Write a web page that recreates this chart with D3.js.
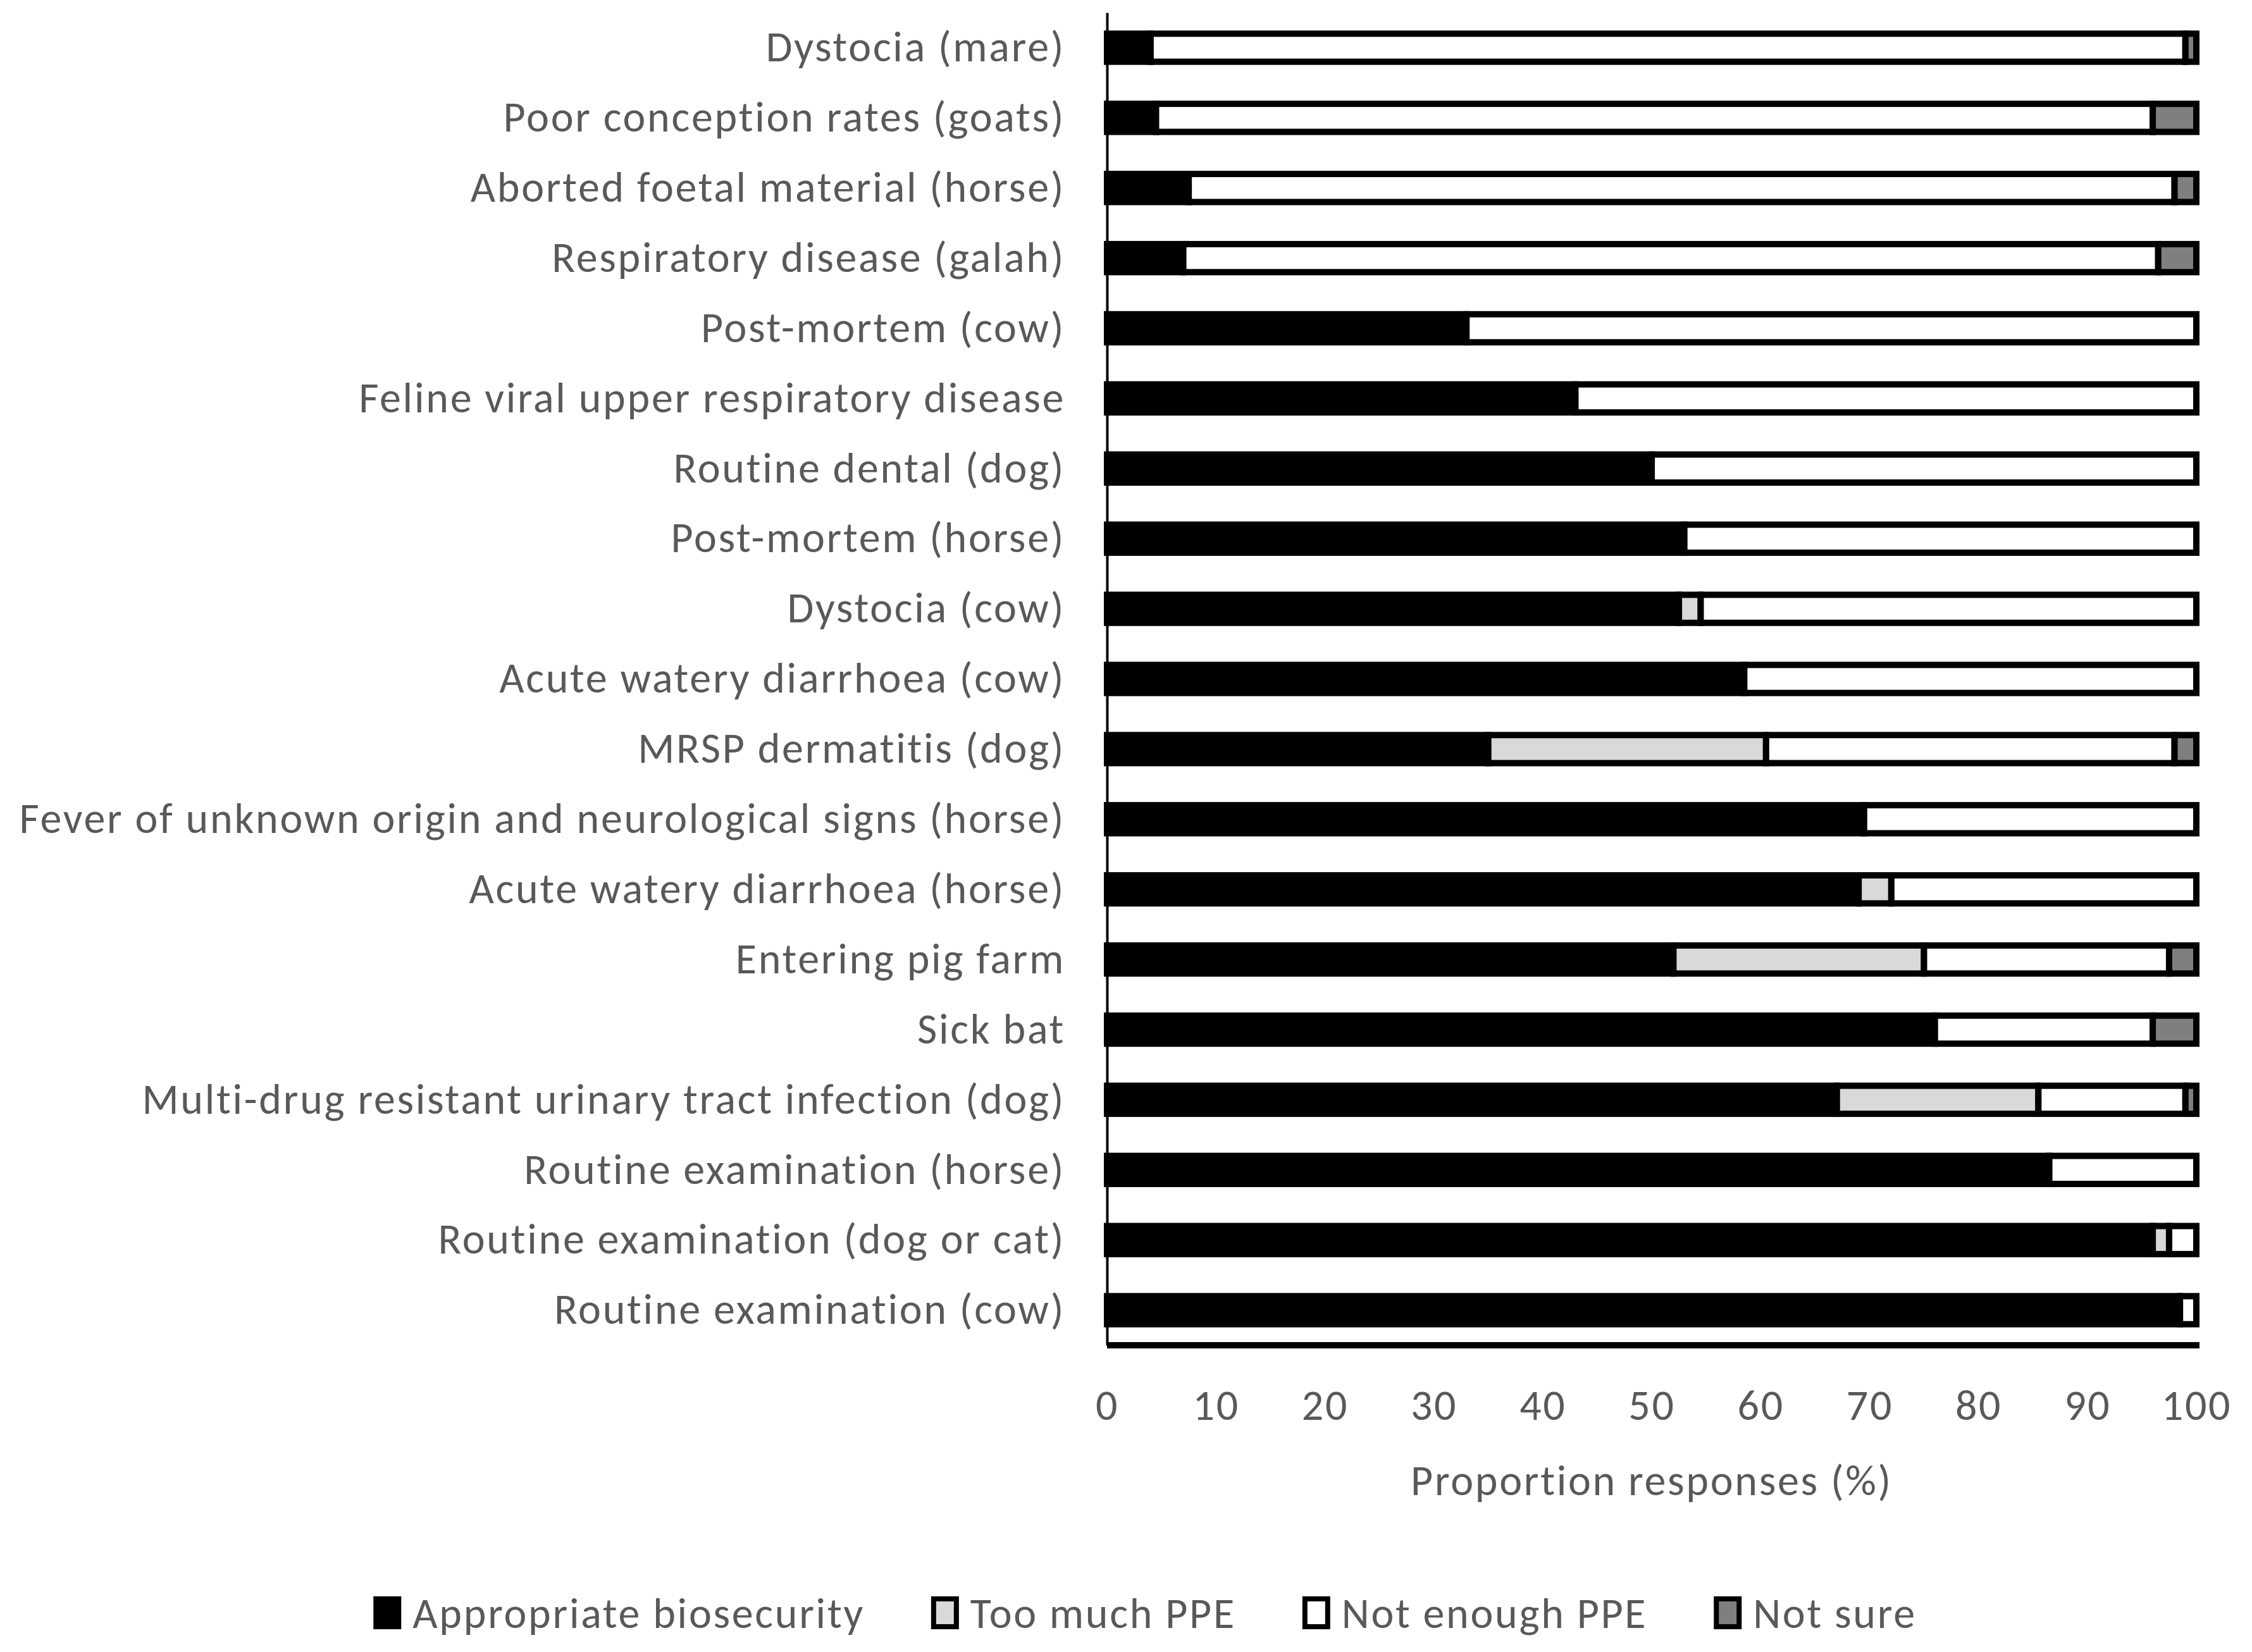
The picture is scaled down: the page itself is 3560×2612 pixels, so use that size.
<!DOCTYPE html>
<html>
<head>
<meta charset="utf-8">
<script src="https://cdn.jsdelivr.net/npm/d3@7"></script>
<style>
  body { margin: 0; background: #fff; }
  text { font-family: "Carlito", "Lato", sans-serif; fill: #595959; letter-spacing: 2.7px; }
</style>
</head>
<body>
<svg id="chart" width="3560" height="2612"></svg>
<script>
// categories, top to bottom
const categories = [
  "Dystocia (mare)",
  "Poor conception rates (goats)",
  "Aborted foetal material (horse)",
  "Respiratory disease (galah)",
  "Post-mortem (cow)",
  "Feline viral upper respiratory disease",
  "Routine dental (dog)",
  "Post-mortem (horse)",
  "Dystocia (cow)",
  "Acute watery diarrhoea (cow)",
  "MRSP dermatitis (dog)",
  "Fever of unknown origin and neurological signs (horse)",
  "Acute watery diarrhoea (horse)",
  "Entering pig farm",
  "Sick bat",
  "Multi-drug resistant urinary tract infection (dog)",
  "Routine examination (horse)",
  "Routine examination (dog or cat)",
  "Routine examination (cow)",
];

const appropriate = [4, 4.5, 7.5, 7, 33, 43, 50, 53, 52.5, 58.5, 35, 69.5, 69, 52, 76, 67, 86.5, 96, 98.5];
const too_much = [0, 0, 0, 0, 0, 0, 0, 0, 2, 0, 25.5, 0, 3, 23, 0, 18.5, 0, 1.5, 0];
const not_enough = [95, 91.5, 90.5, 89.5, 67, 57, 50, 47, 45.5, 41.5, 37.5, 30.5, 28, 22.5, 20, 13.5, 13.5, 2.5, 1.5];
const not_sure = [1, 4, 2, 3.5, 0, 0, 0, 0, 0, 0, 2, 0, 0, 2.5, 4, 1, 0, 0, 0];

const series_names = ["Appropriate biosecurity", "Too much PPE", "Not enough PPE", "Not sure"];
const series_keys = ["appropriate", "too_much", "not_enough", "not_sure"];
const x_ticks = [0, 10, 20, 30, 40, 50, 60, 70, 80, 90, 100];
const x_title = "Proportion responses (%)";

const colors = ["#000000", "#d9d9d9", "#ffffff", "#7f7f7f"];

const rows = categories.map((c, i) => ({
  category: c,
  appropriate: appropriate[i],
  too_much: too_much[i],
  not_enough: not_enough[i],
  not_sure: not_sure[i],
}));

const svg = d3.select("#chart");
const margin = { left: 1750, right: 88, top: 20, bottom: 485 };
const width = 3560, height = 2612;
const font_size = 68;

const x = d3.scaleLinear().domain([0, 100]).range([margin.left, width - margin.right]);
const y = d3.scaleBand()
  .domain(categories)
  .range([margin.top, height - margin.bottom])
  .paddingInner(0.6)
  .paddingOuter(0.3);

const stacked = d3.stack().keys(series_keys)(rows);

// bars
svg.append("g")
  .selectAll("g")
  .data(stacked)
  .join("g")
  .attr("fill", (d, i) => colors[i])
  .selectAll("rect")
  .data((d) => d.filter((s) => s[1] - s[0] > 0))
  .join("rect")
  .attr("x", (d) => x(d[0]))
  .attr("y", (d) => y(d.data.category))
  .attr("width", (d) => x(d[1]) - x(d[0]))
  .attr("height", y.bandwidth())
  .attr("stroke", "#000")
  .attr("stroke-width", 10);

// y axis
const y_axis = svg.append("g")
  .attr("transform", `translate(${margin.left}, 0)`)
  .call(d3.axisLeft(y).tickSize(0).tickPadding(66));
y_axis.select(".domain").attr("stroke", "#000").attr("stroke-width", 4);
y_axis.selectAll(".tick text")
  .attr("font-size", font_size)
  .attr("fill", "#595959");

// x axis
const x_axis = svg.append("g")
  .attr("transform", `translate(0, ${height - margin.bottom})`)
  .call(d3.axisBottom(x).tickValues(x_ticks).tickSize(0).tickPadding(70));
x_axis.select(".domain")
  .attr("d", `M${margin.left},0H${x(100) + 5}`)
  .attr("stroke", "#000")
  .attr("stroke-width", 10);
x_axis.selectAll(".tick text")
  .attr("font-size", font_size)
  .attr("fill", "#595959");

svg.append("text")
  .attr("x", (x(0) + x(100)) / 2)
  .attr("y", 2340)
  .attr("dy", "0.35em")
  .attr("text-anchor", "middle")
  .attr("font-size", font_size)
  .text(x_title);

// legend
const legend = svg.append("g").attr("transform", "translate(0, 2550)");
const items = legend.selectAll("g")
  .data(series_names)
  .join("g");
items.append("rect")
  .attr("x", 4)
  .attr("y", -22)
  .attr("width", 36)
  .attr("height", 44)
  .attr("fill", (d, i) => colors[i])
  .attr("stroke", "#000")
  .attr("stroke-width", 8);
items.append("text")
  .attr("x", 62)
  .attr("dy", "0.35em")
  .attr("font-size", font_size)
  .text((d) => d);

let offset = 0;
const widths = [];
items.each(function () {
  const w = 62 + this.querySelector("text").getComputedTextLength();
  widths.push(w);
});
const gap = 105;
const total = d3.sum(widths) + gap * (widths.length - 1);
offset = 1810 - total / 2;
items.attr("transform", (d, i) => {
  const t = `translate(${offset}, 0)`;
  offset += widths[i] + gap;
  return t;
});
</script>
</body>
</html>
